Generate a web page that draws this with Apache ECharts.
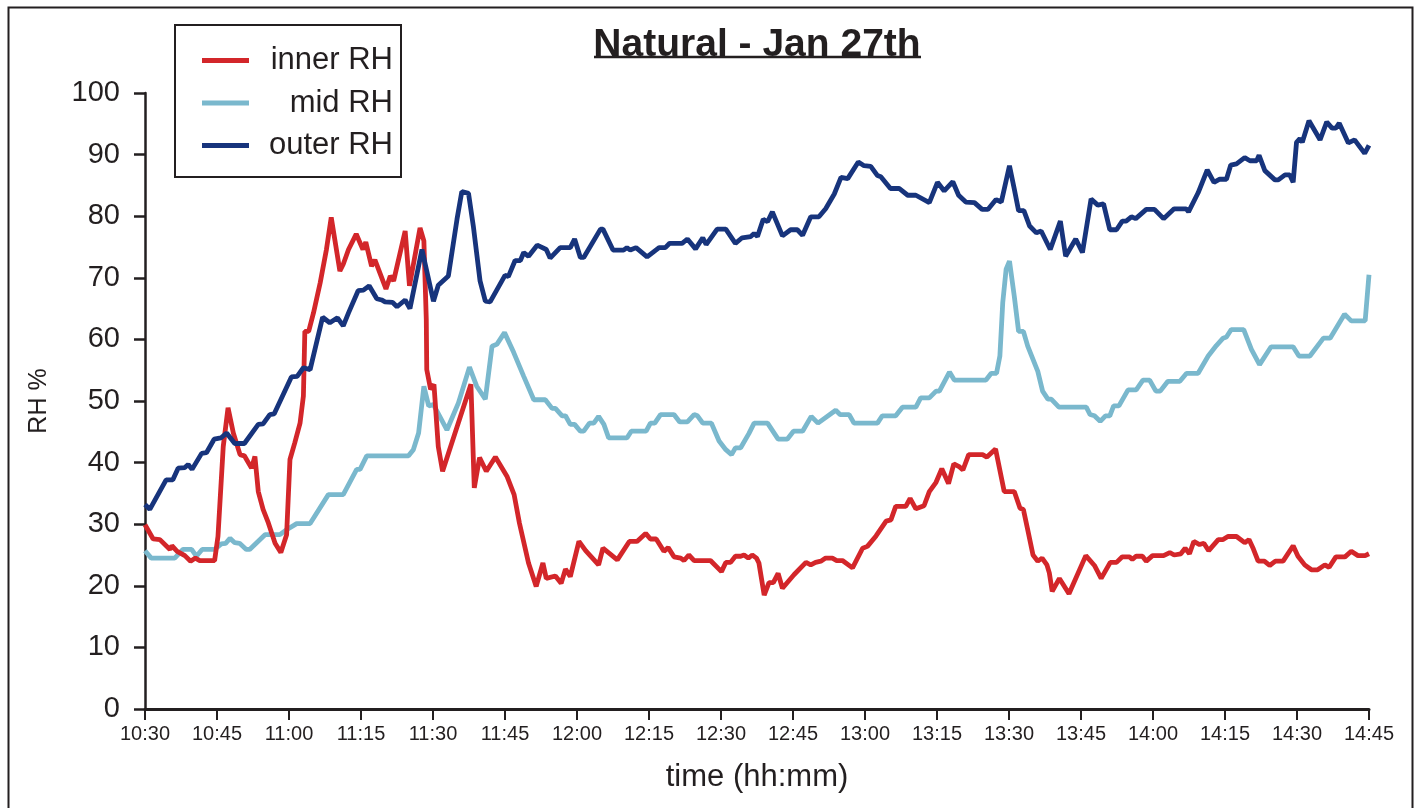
<!DOCTYPE html>
<html>
<head>
<meta charset="utf-8">
<title>Natural - Jan 27th</title>
<script src="https://cdn.jsdelivr.net/npm/echarts@6/dist/echarts.min.js"></script>
<style>
  html, body { margin: 0; padding: 0; background: #ffffff; }
  #chart { width: 1420px; height: 808px; }
</style>
</head>
<body>
<div id="chart"></div>
<script>
// Time axis: minutes after 10:30, labelled every 15 minutes.
const timeLabels = ['10:30', '10:45', '11:00', '11:15', '11:30', '11:45', '12:00', '12:15', '12:30',
  '12:45', '13:00', '13:15', '13:30', '13:45', '14:00', '14:15', '14:30', '14:45'];

const seriesNames = ['inner RH', 'mid RH', 'outer RH'];

// [minutes after 10:30, RH %]
const innerRH = [[0,29.9],[1.7,27.6],[3.1,27.5],[5.2,25.9],[5.6,26.5],[6.7,25.6],[8.3,24.9],[9.5,24.0],[10.5,24.5],[11.4,24.1],[14.5,24.1],[15.2,28.0],[16.3,42.6],[17.3,48.9],[18.4,44.8],[19.8,41.3],[20.7,41.1],[22.2,39.1],[22.9,41.0],[23.6,35.3],[24.6,32.4],[25.7,30.2],[27.1,26.9],[28.3,25.4],[29.5,28.3],[30.2,40.5],[31.2,43.2],[32.3,46.4],[33.0,50.8],[33.3,61.3],[34.1,61.3],[35.1,64.3],[36.5,69.2],[37.8,74.6],[38.8,79.8],[40.6,71.1],[41.3,72.2],[42.4,74.6],[44.0,77.1],[45.4,74.6],[46.0,75.8],[47.2,71.9],[47.9,72.9],[50.2,68.2],[51.1,70.3],[51.8,69.5],[54.2,77.6],[55.1,68.7],[57.3,78.1],[58.1,76.0],[58.6,63.3],[58.7,55.1],[59.5,51.9],[60.2,52.7],[61.1,42.6],[62.0,38.6],[67.9,52.7],[68.6,35.9],[69.7,40.8],[71.1,38.6],[73.0,40.9],[75.4,37.8],[76.9,34.8],[78.0,30.2],[79.9,23.7],[81.5,19.9],[82.9,23.7],[83.6,21.2],[85.5,21.6],[86.7,20.4],[87.6,22.7],[88.6,21.5],[90.4,27.2],[91.8,25.7],[94.5,23.4],[95.4,26.1],[98.4,24.2],[100.9,27.2],[102.5,27.2],[104.3,28.5],[105.3,27.6],[106.5,27.6],[108.1,25.6],[109.0,26.2],[110.2,24.7],[111.6,24.5],[112.3,24.1],[113.3,25.0],[114.4,24.1],[117.8,24.1],[120.1,22.3],[121.0,23.8],[122.0,23.8],[123.0,24.8],[124.1,24.8],[124.8,25.0],[125.7,24.5],[126.5,25.0],[127.4,24.5],[127.9,23.7],[129.0,18.5],[130.0,20.5],[130.9,20.5],[131.9,22.0],[132.8,19.6],[135.2,21.8],[137.7,23.8],[138.7,23.4],[139.7,23.8],[140.8,24.0],[141.8,24.5],[143.2,24.5],[144.1,24.1],[145.3,24.1],[147.4,22.9],[149.5,26.1],[150.5,26.4],[152.3,28.1],[154.4,30.5],[155.4,30.7],[156.4,32.9],[158.5,32.9],[159.4,34.2],[160.6,32.5],[162.3,33.0],[163.4,35.3],[164.8,36.8],[166.0,39.0],[167.4,36.6],[168.5,39.8],[169.7,39.3],[170.4,38.8],[171.6,41.3],[174.5,41.3],[175.4,40.9],[177.2,42.2],[179.0,35.3],[181.1,35.3],[182.3,32.6],[183.0,32.4],[183.9,29.1],[185.0,25.0],[186.0,24.0],[186.9,24.5],[187.9,23.4],[188.4,22.1],[189.0,19.1],[190.5,21.2],[192.5,18.7],[196.0,24.9],[197.8,23.3],[199.2,21.2],[201.1,23.8],[202.4,23.8],[203.6,24.7],[205.1,24.7],[205.7,24.3],[206.5,24.8],[207.8,24.8],[208.6,24.0],[209.9,24.9],[212.2,24.9],[213.5,25.4],[214.4,25.0],[215.8,25.2],[216.7,26.1],[217.6,25.2],[218.5,27.2],[219.7,26.7],[220.6,26.9],[221.6,25.7],[223.6,27.5],[224.6,27.5],[225.6,28.0],[227.4,28.0],[229.1,27.0],[230.0,27.5],[230.9,26.0],[231.9,24.0],[233.2,24.0],[234.3,23.3],[235.5,24.0],[237.1,24.0],[239.2,26.5],[240.2,24.8],[241.6,23.4],[243.0,22.6],[244.3,22.6],[245.8,23.4],[246.7,23.0],[248.1,24.7],[250.0,24.7],[251.3,25.6],[252.7,24.9],[254.2,24.9],[255.0,25.2]];

const midRH = [[0,25.7],[1.3,24.5],[6.2,24.5],[7.9,25.9],[9.7,25.9],[10.7,24.8],[11.9,25.9],[14.5,25.9],[15.9,26.8],[16.8,26.9],[17.7,27.7],[18.7,27.0],[19.7,26.9],[21.1,25.9],[21.8,25.9],[25.0,28.3],[28.1,28.3],[29.5,29.1],[31.6,30.1],[34.4,30.1],[38.2,34.8],[41.3,34.8],[44.1,38.9],[44.8,38.9],[46.2,41.1],[54.9,41.1],[55.9,42.1],[57.0,44.8],[58.1,52.4],[59.1,49.2],[60.1,49.4],[62.9,45.3],[65.3,49.7],[67.6,55.5],[69.1,52.4],[70.9,50.3],[72.3,58.9],[73.3,59.2],[74.9,61.1],[76.8,57.9],[78.9,54.0],[81.0,50.2],[83.4,50.2],[84.8,48.8],[85.5,48.8],[86.9,47.6],[87.6,47.6],[88.6,46.2],[89.5,46.2],[90.7,45.1],[91.4,45.1],[92.6,46.4],[93.5,46.4],[94.5,47.5],[95.6,46.2],[96.6,44.0],[100.4,44.0],[101.3,45.1],[104.4,45.1],[105.3,46.4],[106.2,46.4],[107.4,47.8],[110.2,47.8],[111.4,46.6],[113.0,46.6],[114.4,47.8],[115.1,47.6],[116.2,46.4],[118.0,46.4],[119.6,43.5],[121.0,42.1],[122.2,41.3],[123.0,42.4],[124.1,42.4],[125.8,44.7],[126.9,46.4],[129.7,46.4],[131.9,43.8],[133.8,43.8],[135.1,45.1],[137.0,45.1],[138.8,47.5],[140.2,46.4],[143.9,48.5],[144.8,47.8],[146.7,47.8],[147.7,46.4],[152.6,46.4],[153.6,47.6],[156.4,47.6],[157.8,49.0],[160.6,49.0],[161.6,50.5],[163.4,50.5],[164.8,51.6],[165.5,51.6],[167.6,54.7],[168.6,53.4],[175.2,53.4],[176.3,54.5],[177.4,54.5],[178.1,57.3],[178.7,66.0],[179.4,71.4],[180.1,72.7],[181.1,67.0],[182.0,61.3],[183.0,61.3],[183.9,58.9],[186.0,54.8],[187.0,51.6],[188.1,50.3],[188.8,50.3],[190.4,49.0],[196.1,49.0],[196.9,47.8],[197.8,47.6],[199.0,46.7],[200.1,47.6],[201.0,47.6],[201.8,49.2],[202.9,49.2],[204.8,51.8],[206.5,51.8],[207.9,53.4],[209.3,53.4],[210.6,51.6],[211.5,51.6],[213.1,53.2],[215.6,53.2],[217.0,54.5],[219.4,54.5],[221.5,57.3],[223.2,59.0],[224.6,60.2],[225.3,60.4],[226.3,61.6],[228.9,61.6],[230.5,58.4],[232.2,55.9],[234.6,58.8],[239.2,58.8],[240.4,57.3],[242.7,57.3],[245.5,60.2],[246.9,60.2],[249.9,64.1],[251.3,63.0],[254.2,63.0],[255.0,70.5]];

const outerRH = [[0,33.2],[1.0,32.4],[4.4,37.2],[5.8,37.2],[6.9,39.1],[8.3,39.2],[9.0,39.7],[9.8,38.9],[11.8,41.5],[12.8,41.6],[14.4,43.8],[15.8,44.0],[17.0,44.8],[18.7,43.1],[20.7,43.1],[23.6,46.2],[24.6,46.3],[26.0,47.8],[26.9,47.9],[30.5,53.9],[31.7,54.0],[33.0,55.4],[34.4,55.1],[37.0,63.6],[38.5,62.7],[40.1,63.5],[41.3,62.2],[42.4,64.3],[44.4,67.9],[45.5,68.0],[46.7,68.7],[48.3,66.6],[49.3,66.4],[50.0,66.1],[51.6,66.0],[52.5,65.3],[54.2,66.4],[55.2,65.0],[57.7,74.6],[60.1,66.2],[61.1,68.8],[63.2,70.3],[65.0,79.5],[66.0,84.0],[67.4,83.7],[68.4,78.4],[69.8,69.5],[70.9,66.2],[71.9,66.1],[75.0,70.4],[75.7,70.2],[77.1,72.8],[78.2,72.8],[78.9,74.1],[79.9,73.5],[81.7,75.3],[83.6,74.6],[84.4,73.2],[86.5,74.9],[88.6,74.9],[89.5,76.3],[90.7,73.3],[91.4,73.3],[94.9,77.9],[95.4,77.9],[97.5,74.5],[99.7,74.5],[100.4,74.9],[101.1,74.5],[102.3,74.9],[104.6,73.4],[107.1,74.9],[108.4,74.9],[109.3,75.6],[111.9,75.6],[113.0,76.3],[114.7,74.7],[116.2,76.5],[116.9,75.4],[119.2,77.9],[121.0,77.9],[123.0,75.6],[124.4,76.5],[126.2,76.7],[126.9,77.2],[127.6,76.7],[128.8,79.5],[129.7,79.1],[130.7,80.7],[132.8,76.8],[134.5,77.8],[135.9,77.8],[137.0,76.9],[138.7,79.9],[140.4,79.9],[141.8,81.2],[143.6,83.6],[145.0,86.3],[146.4,86.1],[148.6,88.8],[149.8,88.2],[151.2,88.1],[152.6,86.6],[153.3,86.4],[155.3,84.5],[157.1,84.5],[158.9,83.4],[160.6,83.4],[163.4,82.2],[165.1,85.5],[166.5,84.1],[168.3,85.6],[169.5,83.4],[171.0,82.3],[172.8,82.2],[174.4,81.1],[175.6,81.1],[177.3,82.7],[178.4,82.3],[180.1,88.2],[181.1,84.4],[182.0,80.9],[183.1,80.9],[184.3,78.4],[185.7,77.3],[186.7,77.6],[188.6,74.6],[190.7,79.2],[191.8,73.5],[193.9,76.3],[195.3,74.1],[197.1,82.8],[198.5,81.8],[199.7,82.0],[201.0,77.8],[202.4,77.8],[203.6,79.2],[204.4,79.2],[205.5,79.9],[206.4,79.6],[208.6,81.1],[210.3,81.1],[212.2,79.6],[214.4,81.2],[216.9,81.2],[217.4,80.7],[219.4,83.8],[221.3,87.5],[222.7,85.5],[223.9,86.0],[225.3,86.0],[226.2,88.3],[227.4,88.5],[229.1,89.5],[230.2,89.0],[231.6,89.0],[232.1,89.9],[233.3,87.4],[235.4,85.9],[236.1,85.9],[237.5,86.7],[238.5,86.7],[239.2,85.5],[239.9,92.0],[240.6,92.6],[241.1,92.0],[242.5,95.5],[244.8,92.4],[246.2,95.3],[247.3,94.3],[248.1,94.3],[248.8,95.1],[250.7,91.9],[252.0,92.4],[254.1,90.2],[255.0,91.5]];

const colors = { inner: '#d3262a', mid: '#7ab8cd', outer: '#17347c' };
const ink = '#231f20';
const font = 'Liberation Sans, Arial, Helvetica, sans-serif';

const chart = echarts.init(document.getElementById('chart'), null, { renderer: 'canvas' });

chart.setOption({
  backgroundColor: '#ffffff',
  animation: false,
  title: {
    text: 'Natural - Jan 27th',
    left: 752,
    top: 21,
    textAlign: 'center',
    textStyle: { fontFamily: font, fontSize: 39, fontWeight: 'bold', color: ink }
  },
  legend: {
    data: seriesNames,
    orient: 'vertical',
    left: 175,
    top: 25,
    padding: [20, 8, 16, 27],
    itemGap: 11.5,
    itemWidth: 47,
    itemHeight: 5,
    itemTextGap: 10,
    icon: 'rect',
    borderColor: ink,
    borderWidth: 2,
    borderRadius: 0,
    formatter: '{t|{name}}',
    textStyle: {
      rich: {
        t: { fontFamily: font, fontSize: 31, color: ink, width: 139, align: 'right', lineHeight: 30 }
      }
    }
  },
  grid: { left: 145, right: 51, top: 93, bottom: 99 },
  xAxis: {
    type: 'value',
    min: 0,
    max: 255,
    interval: 15,
    name: 'time (hh:mm)',
    nameLocation: 'middle',
    nameGap: 53,
    nameTextStyle: { fontFamily: font, fontSize: 31, color: ink },
    axisLine: { show: true, lineStyle: { color: ink, width: 3 } },
    axisTick: { show: true, length: 11, lineStyle: { color: ink, width: 2 } },
    axisLabel: {
      fontFamily: font, fontSize: 20, color: ink, margin: 15,
      formatter: v => timeLabels[Math.round(v / 15)]
    },
    splitLine: { show: false }
  },
  yAxis: {
    type: 'value',
    min: 0,
    max: 100,
    interval: 10,
    name: 'RH %',
    nameLocation: 'middle',
    nameRotate: 90,
    nameGap: 93,
    nameTextStyle: { fontFamily: font, fontSize: 25, color: ink },
    axisLine: { show: true, lineStyle: { color: ink, width: 2.5 } },
    axisTick: { show: true, length: 11, lineStyle: { color: ink, width: 2.5 } },
    axisLabel: { fontFamily: font, fontSize: 29, color: ink, margin: 25 },
    splitLine: { show: false }
  },
  series: [
    { name: seriesNames[0], type: 'line', data: innerRH, z: 3, showSymbol: false, symbol: 'none',
      color: colors.inner, lineStyle: { color: colors.inner, width: 4.8 } },
    { name: seriesNames[1], type: 'line', data: midRH, z: 2, showSymbol: false, symbol: 'none',
      color: colors.mid, lineStyle: { color: colors.mid, width: 4.8 } },
    { name: seriesNames[2], type: 'line', data: outerRH, z: 4, showSymbol: false, symbol: 'none',
      color: colors.outer, lineStyle: { color: colors.outer, width: 4.8 } }
  ],
  graphic: [
    // frame around the figure
    { type: 'rect', left: 6, top: 5, z: 100,
      shape: { width: 1404, height: 830 },
      style: { fill: null, stroke: ink, lineWidth: 2 } },
    // title underline
    { type: 'line', z: 100,
      shape: { x1: 594, y1: 57, x2: 921, y2: 57 },
      style: { stroke: ink, lineWidth: 2.5 } }
  ]
});
</script>
</body>
</html>
